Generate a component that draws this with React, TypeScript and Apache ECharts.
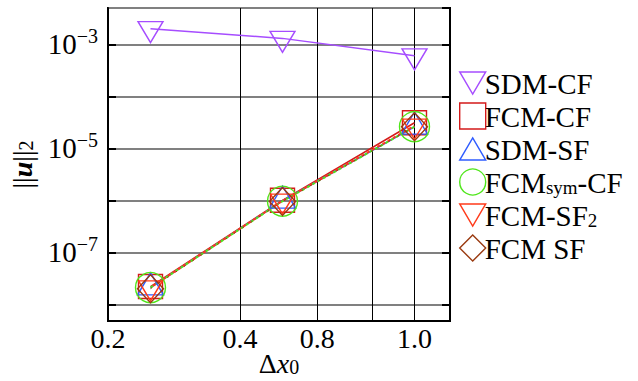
import React, { useEffect, useRef } from "react";
import * as echarts from "echarts";

const X_VALUES = [0.25, 0.5, 1.0];
const SDM_CF = [2.0e-3, 1.3e-3, 6.0e-4];
const FCM_CF = [2.2e-8, 1.0e-6, 3.1e-5];
const SDM_SF = [2.1e-8, 9.8e-7, 2.6e-5];
const FCM_SYM_CF = [2.1e-8, 9.6e-7, 2.6e-5];
const FCM_SF2 = [2.1e-8, 9.8e-7, 2.7e-5];
const FCM_SF = [2.0e-8, 9.5e-7, 2.6e-5];

const SERIES_NAMES = ["SDM-CF", "FCM-CF", "SDM-SF", "FCMsym-CF", "FCM-SF2", "FCM SF"];
const X_GRID_TICKS = [0.4, 0.6, 0.8, 1.0];
const X_LABEL_TICKS = [0.2, 0.4, 0.6, 1.0];
const X_LABEL_TEXTS = ["0.2", "0.4", "0.8", "1.0"];
const Y_LABEL_EXPONENTS = [-3, -5, -7];

const FONT = "Liberation Serif";
const TRI_DOWN = "path://M0,0 L20,0 L10,17 Z";
const TRI_UP = "path://M10,0 L20,17 L0,17 Z";
const DIAMOND = "path://M10,0 L20,10 L10,20 L0,10 Z";
const SQUARE = "path://M0,0 L20,0 L20,20 L0,20 Z";

export default function App() {
  const ref = useRef<HTMLDivElement>(null);
  useEffect(() => {
    if (!ref.current) return;
    const chart = echarts.init(ref.current, null, { renderer: "svg" });
    const pts = (ys: number[]) => X_VALUES.map((x, i) => [x, ys[i]]);
    const mk = (
      name: string,
      ys: number[],
      color: string,
      symbol: string,
      size: number[],
      offset: number[],
      lineType: any,
      lineWidth: number,
      dashOffset = 0
    ) => ({
      name,
      type: "line",
      data: pts(ys),
      symbol,
      symbolSize: size,
      symbolOffset: offset,
      showSymbol: true,
      itemStyle: { color: "rgba(0,0,0,0)", borderColor: color, borderWidth: 1.4 },
      lineStyle: { color, width: lineWidth, type: lineType, dashOffset },
      emphasis: { disabled: true },
    });
    const colors = ["#a64dff", "#d41a1a", "#2f5cff", "#4fe61a", "#ff3a1a", "#9a3a10"];
    const icons = [TRI_DOWN, SQUARE, TRI_UP, "circle", TRI_DOWN, DIAMOND];
    chart.setOption({
      animation: false,
      backgroundColor: "#fff",
      grid: {
        left: 108,
        right: 188,
        top: 8,
        bottom: 60,
        show: true,
        borderColor: "#000",
        borderWidth: 2,
        containLabel: false,
        outerBoundsMode: "none",
      },
      legend: {
        orient: "vertical",
        left: 454,
        top: 64,
        itemGap: 4,
        itemWidth: 26,
        itemHeight: 26,
        selectedMode: false,
        itemStyle: { color: "rgba(0,0,0,0)", borderWidth: 1.4 },
        textStyle: {
          fontFamily: FONT,
          fontSize: 29,
          color: "#000",
          padding: [0, 0, 0, -6],
          rich: {
            a: { fontFamily: FONT, fontSize: 29, color: "#000", lineHeight: 30, verticalAlign: "bottom" },
            s: { fontFamily: FONT, fontSize: 19, color: "#000", lineHeight: 18, verticalAlign: "bottom" },
          },
        },
        formatter: (n: string) => {
          if (n === "FCMsym-CF") return "{a|FCM}{s|sym}{a|-CF}";
          if (n === "FCM-SF2") return "{a|FCM-SF}{s|2}";
          return "{a|" + n + "}";
        },
        data: SERIES_NAMES.map((n, i) => ({
          name: n,
          icon: icons[i],
          itemStyle: { color: "rgba(0,0,0,0)", borderColor: colors[i], borderWidth: 1.4 },
        })),
      },
      xAxis: {
        type: "log",
        min: 0.2,
        max: 1.205,
        axisLine: { show: true, onZero: false, lineStyle: { color: "#000", width: 2 } },
        axisTick: { show: false, customValues: X_GRID_TICKS },
        splitLine: { show: true, lineStyle: { color: "#000", width: 1 } },
        axisLabel: {
          customValues: X_LABEL_TICKS,
          margin: 3,
          fontFamily: FONT,
          fontSize: 28,
          color: "#000",
          formatter: (v: number) => {
            let best = 0;
            X_LABEL_TICKS.forEach((t, i) => {
              if (Math.abs(t - v) < Math.abs(X_LABEL_TICKS[best] - v)) best = i;
            });
            return X_LABEL_TEXTS[best];
          },
        },
        name: "{a|Δ}{i|x}{s|0}",
        nameLocation: "middle",
        nameGap: 30,
        nameMoveOverlap: false,
        nameTextStyle: {
          rich: {
            a: { fontFamily: FONT, fontSize: 28, color: "#000", lineHeight: 26, verticalAlign: "bottom" },
            i: { fontFamily: FONT, fontStyle: "italic", fontSize: 28, color: "#000", lineHeight: 26, verticalAlign: "bottom" },
            s: { fontFamily: FONT, fontSize: 20, color: "#000", lineHeight: 18, verticalAlign: "bottom" },
          },
        },
      },
      yAxis: [
        {
          type: "log",
          min: 4.78e-9,
          max: 4.99e-3,
          axisLine: { show: true, lineStyle: { color: "#000", width: 2 } },
          axisTick: { show: true, inside: true, length: 8, lineStyle: { color: "#000", width: 2 } },
          splitLine: { show: true, lineStyle: { color: "#808080", width: 2 } },
          axisLabel: {
            showMinLabel: false,
            showMaxLabel: false,
            margin: 10,
            formatter: (v: number) => {
              const e = Math.log10(v);
              const r = Math.round(e);
              if (Math.abs(e - r) > 1e-6) return "";
              if (Y_LABEL_EXPONENTS.indexOf(r) < 0) return "";
              return "{b|10}{p|−" + String(-r) + "}";
            },
            rich: {
              b: { fontFamily: FONT, fontSize: 29, color: "#000", lineHeight: 36, verticalAlign: "middle" },
              p: { fontFamily: FONT, fontSize: 20, color: "#000", lineHeight: 20, verticalAlign: "top" },
            },
          },
          name: "{n|||}{u|u}{n|||}{s|2}",
          nameLocation: "middle",
          nameRotate: 90,
          nameGap: 72,
          nameMoveOverlap: false,
          nameTextStyle: {
            rich: {
              n: { fontFamily: FONT, fontSize: 28, color: "#000", lineHeight: 30, verticalAlign: "bottom" },
              u: { fontFamily: FONT, fontSize: 28, fontWeight: "bold", fontStyle: "italic", color: "#000", lineHeight: 30, verticalAlign: "bottom" },
              s: { fontFamily: FONT, fontSize: 20, color: "#000", lineHeight: 22, verticalAlign: "bottom" },
            },
          },
        },
        {
          type: "log",
          position: "right",
          min: 4.78e-9,
          max: 4.99e-3,
          axisLine: { show: true, lineStyle: { color: "#000", width: 2 } },
          axisTick: { show: true, inside: true, length: 8, lineStyle: { color: "#000", width: 2 } },
          splitLine: { show: false },
          axisLabel: { show: false },
        },
      ],
      series: [
        mk(SERIES_NAMES[0], SDM_CF, colors[0], TRI_DOWN, [25, 21], [0, 3.5], "solid", 1.5),
        mk(SERIES_NAMES[1], FCM_CF, colors[1], SQUARE, [24, 24], [0, 0], "solid", 1.5),
        mk(SERIES_NAMES[2], SDM_SF, colors[2], TRI_UP, [26, 22], [0, -3.7], "solid", 1.5),
        mk(SERIES_NAMES[3], FCM_SYM_CF, colors[3], "circle", [30, 30], [0, 0], [3, 3], 2),
        mk(SERIES_NAMES[4], FCM_SF2, colors[4], TRI_DOWN, [24, 20], [0, 3.3], [3, 3], 2, 3),
        mk(SERIES_NAMES[5], FCM_SF, colors[5], DIAMOND, [26, 28], [0, 0], [2, 8], 1),
      ],
    });
    return () => chart.dispose();
  }, []);
  return (
    <div
      ref={ref}
      style={{ position: "fixed", left: 0, top: 0, width: 638, height: 381 }}
    />
  );
}
